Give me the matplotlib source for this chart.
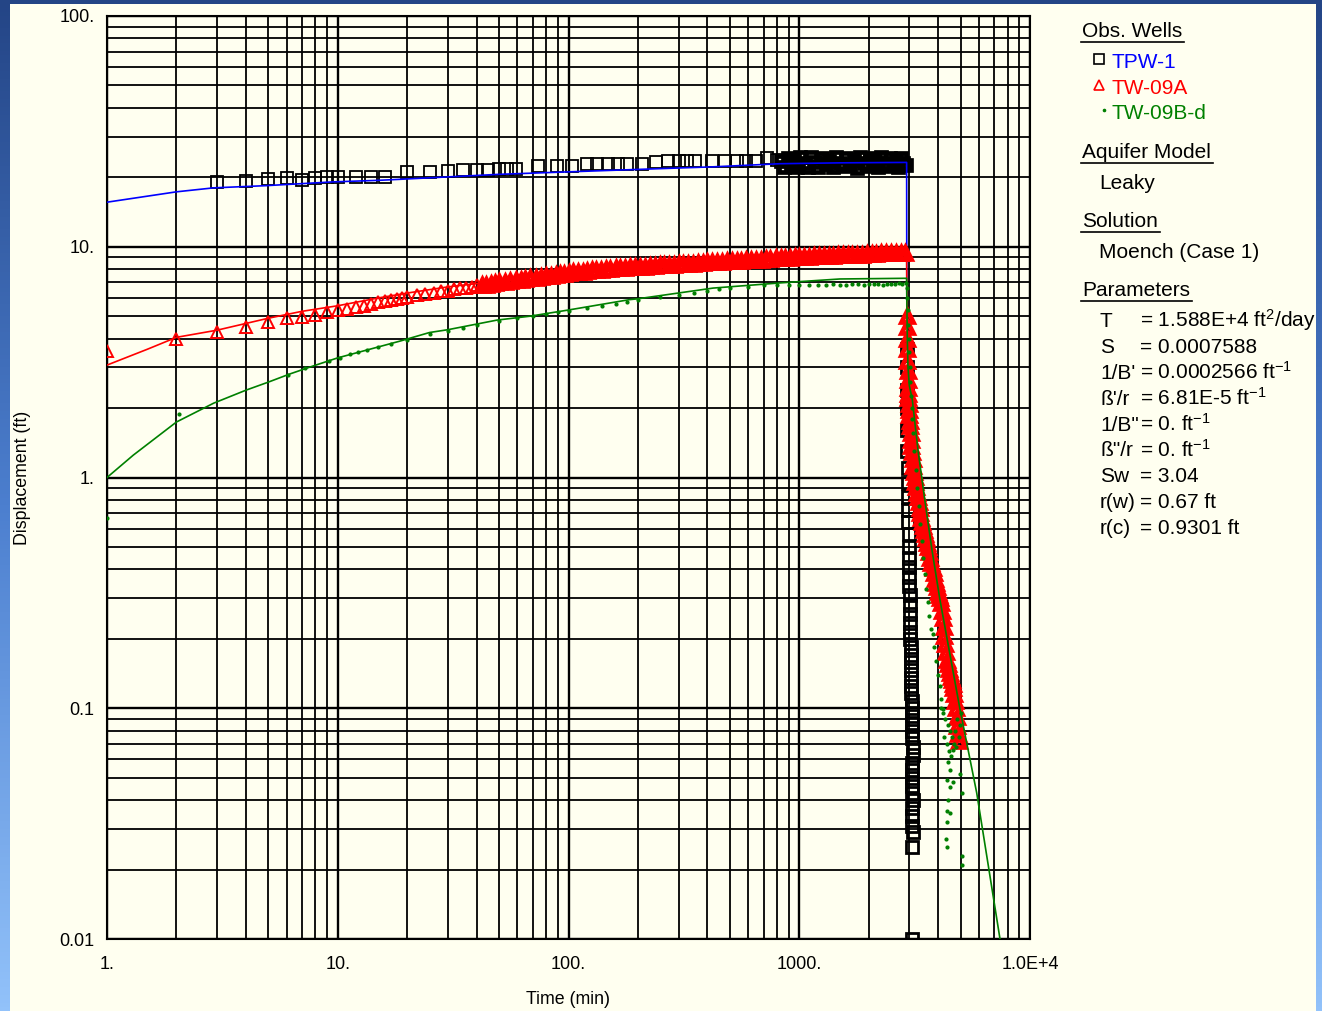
import numpy as np
import matplotlib
matplotlib.use("Agg")
import matplotlib.pyplot as plt
from matplotlib.lines import Line2D
from matplotlib.patches import Rectangle
from matplotlib.colors import LinearSegmentedColormap
from matplotlib.ticker import LogLocator, NullFormatter

plt.rcParams['font.family'] = ['Liberation Sans', 'DejaVu Sans']
plt.rcParams['mathtext.fontset'] = 'custom'
plt.rcParams['mathtext.rm'] = 'Liberation Sans'
plt.rcParams['mathtext.it'] = 'Liberation Sans'

W, H = 1322, 1011
CREAM = '#FFFFF0'

# ---- TPW-1 observed (squares) ----
tpw_t = [3, 4, 5, 6, 7, 8, 9, 10, 12, 14, 16, 20, 25, 30, 35, 40, 45, 50, 54, 59,
         74, 89, 104, 120, 133, 148, 164, 179, 208, 240, 270, 300, 325, 355, 420,
         477, 537, 590, 650, 725, 800,
         830, 860, 890, 920, 950, 980, 1010, 1050, 1090, 1130, 1170, 1210, 1250,
         1300, 1350, 1400, 1450, 1500, 1550, 1600, 1660, 1720, 1780, 1840, 1900,
         1960, 2020, 2080, 2140, 2200, 2270, 2340, 2410, 2480, 2550, 2620, 2690,
         2760, 2830, 2900,
         2920, 2925, 2930, 2935, 2940, 2945, 2950, 2955, 2960, 2965, 2970, 2975,
         2980, 2985, 2990, 2995, 3000, 3005, 3010, 3015, 3020, 3025, 3030, 3035,
         3040, 3045, 3050, 3055, 3060, 3065, 3070, 3075, 3080, 3085, 3090, 3095,
         3100, 3100, 3095, 3090, 3085, 3090, 3095, 3100, 3090, 3085, 3095, 3100,
         3080, 3090]
tpw_d = [19.1, 19.2, 19.6, 19.9, 19.4, 19.8, 20.0, 20.0, 20.0, 20.0, 20.1, 21.1,
         21.1, 21.2, 21.6, 21.6, 21.6, 21.8, 21.8, 21.8, 22.3, 22.3, 22.3, 22.9,
         22.9, 22.9, 22.9, 22.9, 22.9, 23.3, 23.6, 23.6, 23.6, 23.6, 23.6, 23.6,
         23.6, 23.6, 23.6, 24.2, 23.8,
         23.5, 22.2, 24.3, 22.6, 23.8, 22.1, 24.4, 23.0, 22.2, 24.5, 23.2, 22.1,
         24.2, 22.8, 23.6, 22.1, 24.5, 23.1, 22.3, 24.2, 22.7, 23.7, 22.0, 24.4,
         23.0, 22.4, 24.3, 22.8, 23.8, 22.1, 24.4, 23.1, 22.3, 24.2, 22.7, 23.6,
         22.1, 24.3, 23.0, 22.6,
         3.6, 3.0, 2.4, 2.0, 1.6, 1.3, 1.1, 0.95, 0.82, 0.72, 0.64, 0.57, 0.5,
         0.45, 0.41, 0.37, 0.34, 0.31, 0.28, 0.255, 0.235, 0.215, 0.2, 0.185,
         0.17, 0.158, 0.146, 0.135, 0.125, 0.116, 0.108, 0.1, 0.093, 0.086, 0.08,
         0.074, 0.068, 0.063, 0.058, 0.054, 0.05, 0.046, 0.043, 0.04, 0.037,
         0.034, 0.031, 0.029, 0.025, 0.01]

# ---- TPW-1 model (blue) ----
tpw_mt = [1, 2, 2.9, 4.9, 9.5, 15, 18.6, 50, 98, 218, 423, 825, 1500, 2920,
          2921, 2923, 2926]
tpw_md = [15.6, 17.3, 18.0, 18.4, 19.1, 19.4, 19.6, 20.6, 21.1, 21.7, 22.2, 22.9,
          23.1, 23.2, 18.0, 10.0, 5.0]

# ---- TW-09A observed (triangles) ----
a_t = [1, 2, 3, 4, 5, 6, 7, 8, 9, 10, 11, 12, 13, 14, 15, 16, 17, 18, 19, 20,
       22, 24, 26, 28, 30, 32, 34, 36, 38, 40, 42, 44, 46, 48, 50, 53, 56, 59,
       62, 65, 68, 72, 76, 80, 84, 88, 92, 96, 100, 105, 110, 115, 120, 126, 132,
       138, 145, 152, 160, 168, 176, 185, 195, 205, 215, 225, 236, 248, 260, 273,
       287, 300, 315, 330, 347, 365, 383, 400, 420, 440, 462, 485, 510, 535, 560,
       590, 620, 650, 680, 715, 750, 790, 830, 870, 910, 960, 1000, 1050, 1100,
       1160, 1220, 1280, 1340, 1400, 1470, 1540, 1620, 1700, 1780, 1870, 1960,
       2060, 2160, 2270, 2380, 2500, 2620, 2750, 2880,
       2925, 2930, 2935, 2940, 2945, 2950, 2955, 2960, 2965, 2970, 2980, 2990,
       3000, 3010, 3020, 3035, 3050, 3065, 3080, 3100, 3120, 3140, 3160, 3185,
       3210, 3235, 3260, 3290, 3320, 3350, 3380, 3410, 3440, 3475, 3510, 3545,
       3580, 3620, 3660, 3700, 3740, 3780, 3820, 3860, 3900, 3940, 3980, 4020,
       4060, 4100, 4140, 4180, 4220, 4260, 4300, 4340, 4380, 4420, 4460, 4500,
       4540, 4580, 4620, 4660, 4700, 4740, 4780, 4810, 4840, 4870, 4900]
a_d = [3.55, 4.0, 4.25, 4.5, 4.7, 4.9, 4.95, 5.05, 5.2, 5.3, 5.4, 5.5, 5.55,
       5.65, 5.75, 5.8, 5.85, 5.95, 6.0, 6.05, 6.15, 6.25, 6.3, 6.4, 6.45, 6.55,
       6.6, 6.65, 6.7, 6.8, 6.8, 6.85, 6.9, 6.95, 7.0, 7.05, 7.1, 7.15, 7.2,
       7.25, 7.3, 7.35, 7.4, 7.45, 7.5, 7.55, 7.6, 7.65, 7.7, 7.75, 7.8, 7.8,
       7.85, 7.9, 7.9, 7.95, 8.0, 8.0, 8.05, 8.1, 8.1, 8.15, 8.15, 8.2, 8.2,
       8.25, 8.25, 8.3, 8.3, 8.35, 8.35, 8.4, 8.4, 8.45, 8.45, 8.5, 8.5, 8.55,
       8.55, 8.6, 8.6, 8.65, 8.65, 8.7, 8.7, 8.75, 8.75, 8.8, 8.8, 8.85, 8.85,
       8.9, 8.9, 8.95, 8.95, 9.0, 9.0, 9.05, 9.05, 9.1, 9.1, 9.1, 9.15, 9.15,
       9.2, 9.2, 9.2, 9.25, 9.25, 9.25, 9.3, 9.3, 9.3, 9.35, 9.35, 9.35, 9.4,
       9.4, 9.4,
       5.0, 4.5, 4.0, 3.6, 3.2, 2.9, 2.65, 2.45, 2.3, 2.2, 2.08, 1.97, 1.86,
       1.76, 1.67, 1.56, 1.46, 1.37, 1.29, 1.2, 1.12, 1.06, 1.01, 0.96, 0.91,
       0.86, 0.82, 0.78, 0.74, 0.70, 0.67, 0.64, 0.615, 0.59, 0.57, 0.545, 0.52,
       0.50, 0.475, 0.45, 0.425, 0.405, 0.385, 0.365, 0.35, 0.335, 0.32, 0.31,
       0.30, 0.285, 0.265, 0.245, 0.225, 0.205, 0.19, 0.175, 0.162, 0.155,
       0.148, 0.142, 0.137, 0.133, 0.128, 0.122, 0.115, 0.108, 0.10, 0.092,
       0.084, 0.077, 0.072]

# ---- TW-09A model (red) ----
a_mt = [1, 1.5, 2, 3, 5, 7, 10, 15, 20, 30, 50, 100, 200, 500, 1000, 2000, 2920,
        2921, 2925, 2935, 2950, 2975, 3000, 3050, 3100, 3200, 3350, 3500, 3750,
        4000, 4200, 4400, 4600, 4800, 4900]
a_md = [3.07, 3.6, 4.05, 4.35, 4.9, 5.25, 5.55, 6.0, 6.3, 6.7, 7.1, 7.7, 8.2,
        8.7, 9.0, 9.25, 9.35, 9.0, 6.5, 4.5, 3.3, 2.4, 2.0, 1.55, 1.25, 0.95,
        0.72, 0.58, 0.42, 0.31, 0.24, 0.17, 0.13, 0.10, 0.085]

# ---- TW-09B-d observed (dots) ----
b_t = [1, 2.05, 6.1, 7.2, 9.2, 10.2, 11.3, 12.2, 13.4, 15, 17, 20, 25, 30, 35,
       40, 50, 60, 70, 80, 90, 100, 120, 140, 160, 180, 200, 250, 300, 350, 400,
       450, 500, 600, 700, 800, 900, 1000, 1100, 1200, 1300, 1400, 1500, 1600,
       1700, 1800, 1900, 2000, 2100, 2200, 2300, 2400, 2500, 2600, 2700, 2800,
       2900,
       2925, 2935, 2950, 2965, 2980, 2995, 3010, 3030, 3050, 3070, 3090, 3112,
       3150, 3200, 3250, 3300, 3350, 3400, 3450, 3500, 3550, 3600, 3660, 3720,
       3780, 3850, 3920, 3990, 4060, 4130, 4200,
       4100, 4200, 4300, 4400, 4500, 4600, 4700, 4800, 4900, 4950, 5000, 4250,
       4350, 4450, 4550, 4650, 4750, 4850,
       4413, 4501, 4369, 4501, 4637, 4973, 5074, 4413, 4369, 4501, 4369, 4325,
       4369, 5074, 5074]
b_d = [0.67, 1.89, 2.78, 2.97, 3.2, 3.3, 3.42, 3.5, 3.57, 3.67, 3.78, 3.93,
       4.2, 4.33, 4.45, 4.58, 4.78, 4.9, 5.0, 5.12, 5.22, 5.28, 5.42, 5.55, 5.65,
       5.78, 5.86, 6.05, 6.2, 6.33, 6.45, 6.55, 6.6, 6.7, 6.8, 6.85, 6.85, 6.85,
       6.85, 6.85, 6.85, 6.9, 6.85, 6.85, 6.9, 6.9, 6.85, 6.9, 6.9, 6.9, 6.85,
       6.9, 6.9, 6.9, 6.95, 6.9, 6.95,
       6.6, 6.0, 5.3, 4.6, 4.0, 3.5, 3.0, 2.6, 2.25, 2.0, 1.8, 1.56, 1.3, 1.08,
       0.9, 0.75, 0.63, 0.53, 0.45, 0.38, 0.33, 0.29, 0.25, 0.22, 0.21, 0.185,
       0.16, 0.14, 0.125, 0.11, 0.099,
       0.1, 0.095, 0.09, 0.085, 0.08, 0.075, 0.07, 0.068, 0.075, 0.085, 0.095,
       0.075, 0.07, 0.065, 0.062, 0.066, 0.08, 0.09,
       0.0585, 0.054, 0.049, 0.0456, 0.048, 0.052, 0.043, 0.040, 0.036, 0.035,
       0.032, 0.027, 0.025, 0.023, 0.021]

# ---- TW-09B-d model (green) ----
b_mt = [1, 1.3, 2, 2.9, 4, 5, 6.2, 7.8, 10, 13.4, 18.6, 25, 30, 49, 68, 100, 184,
        200, 423, 825, 1500, 2920, 2925, 2940, 2960, 3000, 3090, 3268, 3500, 3760,
        4074, 4973, 5875, 7413, 7600]
b_md = [1.0, 1.25, 1.74, 2.1, 2.39, 2.59, 2.81, 3.04, 3.3, 3.57, 3.9, 4.25, 4.37,
        4.81, 5.0, 5.32, 5.9, 5.95, 6.62, 6.97, 7.25, 7.3, 6.0, 4.0, 3.0, 2.5,
        2.17, 1.32, 0.8, 0.485, 0.294, 0.099, 0.043, 0.01, 0.0092]

x_ticks = [1, 10, 100, 1000, 10000]
x_labels = ['1.', '10.', '100.', '1000.', '1.0E+4']
y_ticks = [0.01, 0.1, 1, 10, 100]
y_labels = ['0.01', '0.1', '1.', '10.', '100.']

params = [("T", "= 1.588E+4 ft$^{\\mathrm{2}}$/day"),
          ("S", "= 0.0007588"),
          ("1/B'", "= 0.0002566 ft$^{\\mathrm{-1}}$"),
          ("\u00df'/r", "= 6.81E-5 ft$^{\\mathrm{-1}}$"),
          ('1/B"', "= 0. ft$^{\\mathrm{-1}}$"),
          ('\u00df"/r', "= 0. ft$^{\\mathrm{-1}}$"),
          ("Sw", "= 3.04"),
          ("r(w)", "= 0.67 ft"),
          ("r(c)", "= 0.9301 ft")]


def fx(x):
    return x / W


def fy(y):
    return 1 - y / H


fig = plt.figure(figsize=(W / 100, H / 100), dpi=100)

# blue frame with a light cream panel
bg = fig.add_axes([0, 0, 1, 1], zorder=-10)
grad = np.linspace(0, 1, 256).reshape(-1, 1)
cmap = LinearSegmentedColormap.from_list('frame', ['#244586', '#4C7FCF', '#92C2FA'])
bg.imshow(grad, aspect='auto', cmap=cmap, extent=[0, 1, 0, 1], origin='upper')
bg.add_patch(Rectangle((fx(10), 0), fx(1316) - fx(10), fy(4), color=CREAM,
                       transform=bg.transAxes, lw=0))
bg.set_xlim(0, 1)
bg.set_ylim(0, 1)
bg.set_axis_off()

ax = fig.add_axes([fx(107), fy(939), 923 / W, 923 / H])
ax.set_facecolor(CREAM)
ax.set_xscale('log')
ax.set_yscale('log')
ax.set_xlim(1, 1e4)
ax.set_ylim(0.01, 100)
ax.xaxis.set_minor_locator(LogLocator(base=10, subs=range(2, 10)))
ax.yaxis.set_minor_locator(LogLocator(base=10, subs=range(2, 10)))
ax.xaxis.set_minor_formatter(NullFormatter())
ax.yaxis.set_minor_formatter(NullFormatter())
ax.set_xticks(x_ticks, x_labels)
ax.set_yticks(y_ticks, y_labels)
ax.grid(True, which='major', color='black', lw=1.7)
ax.grid(True, which='minor', color='black', lw=1.3)
ax.set_axisbelow(True)
ax.tick_params(which='both', length=0, labelsize=13)
ax.tick_params(axis='x', pad=12)
ax.tick_params(axis='y', pad=9)
for s in ax.spines.values():
    s.set_color('black')
    s.set_linewidth(1.5)
ax.set_xlabel('Time (min)', fontsize=12.8, va='center')
ax.set_ylabel('Displacement (ft)', fontsize=12.8, va='center')
ax.xaxis.set_label_coords(0.5, (939 - 1000) / 923)
ax.yaxis.set_label_coords((23 - 107) / 923, 0.5)

# observed: sparse early points thin, dense runs heavier
ax.plot(tpw_t[:41], tpw_d[:41], ls='none', marker='s', ms=8, mfc='none', mec='black', mew=1.3, zorder=3)
ax.plot(tpw_t[41:81], tpw_d[41:81], ls='none', marker='s', ms=7.5, mfc='none', mec='black', mew=3.4, zorder=3)
ax.plot(tpw_t[81:], tpw_d[81:], ls='none', marker='s', ms=8, mfc='none', mec='black', mew=2.0, zorder=3)
ax.plot(tpw_mt, tpw_md, color='#0000FF', lw=1.2, zorder=3.5)
ax.plot(a_t[:30], a_d[:30], ls='none', marker='^', ms=9, mfc='none', mec='#FF0000', mew=1.4, zorder=4)
ax.plot(a_t[30:], a_d[30:], ls='none', marker='^', ms=9, mfc='none', mec='#FF0000', mew=3.4, zorder=4)
ax.plot(a_mt, a_md, color='#FF0000', lw=1.2, zorder=4.5)
ax.plot(b_t, b_d, ls='none', marker='o', ms=2, mfc='#008000', mec='#008000', zorder=5)
ax.plot(b_mt, b_md, color='#008000', lw=1.2, zorder=6)

# side panel
FS = 15
headers = []
headers.append((fig.text(fx(1082), fy(37), 'Obs. Wells', fontsize=FS), 42))
fig.add_artist(Line2D([fx(1099)], [fy(59)], marker='s', ms=6.5, mfc='none', mec='black', mew=1.2))
fig.text(fx(1111), fy(68), 'TPW-1', fontsize=FS, color='#0000FF')
fig.add_artist(Line2D([fx(1099)], [fy(85)], marker='^', ms=7, mfc='none', mec='#FF0000', mew=1.2))
fig.text(fx(1111), fy(94), 'TW-09A', fontsize=FS, color='#FF0000')
fig.add_artist(Line2D([fx(1104)], [fy(110)], marker='o', ms=1.6, mfc='#008000', mec='#008000'))
fig.text(fx(1111), fy(119), 'TW-09B-d', fontsize=FS, color='#008000')

headers.append((fig.text(fx(1082), fy(158), 'Aquifer Model', fontsize=FS), 163))
fig.text(fx(1099), fy(189), 'Leaky', fontsize=FS)
headers.append((fig.text(fx(1082), fy(227), 'Solution', fontsize=FS), 232))
fig.text(fx(1099), fy(258), 'Moench (Case 1)', fontsize=FS)
headers.append((fig.text(fx(1082), fy(296), 'Parameters', fontsize=FS), 301))

for i, (name, val) in enumerate(params):
    yb = 327 + i * 25.9
    fig.text(fx(1100), fy(yb), name, fontsize=FS)
    fig.text(fx(1140), fy(yb), val, fontsize=FS)

fig.canvas.draw()
r = fig.canvas.get_renderer()
for t, uy in headers:
    bb = t.get_window_extent(r)
    fig.add_artist(Line2D([fx(1081), bb.x1 / W + 2 / W], [fy(uy), fy(uy)],
                          color='black', lw=1.2))

fig.savefig('out.png', dpi=100, facecolor=fig.get_facecolor())
